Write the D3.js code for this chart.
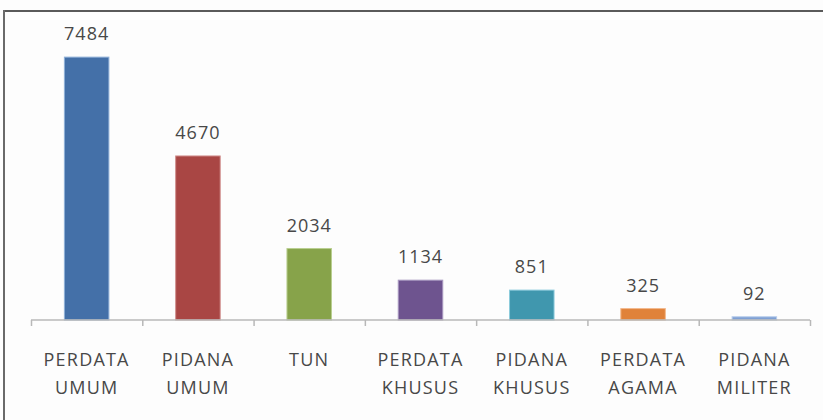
<!DOCTYPE html>
<html><head><meta charset="utf-8">
<script src="https://cdn.jsdelivr.net/npm/d3@7"></script>
<style>
html,body{margin:0;padding:0;background:#fdfdfd;}
svg{display:block;}
</style></head>
<body>
<svg id="chart" width="823" height="420"></svg>
<script>
const categories = [["PERDATA","UMUM"],["PIDANA","UMUM"],["TUN"],["PERDATA","KHUSUS"],["PIDANA","KHUSUS"],["PERDATA","AGAMA"],["PIDANA","MILITER"]];
const values = [7484, 4670, 2034, 1134, 851, 325, 92];
const colors = ["#4470a8", "#a94644", "#87a34a", "#6e548f", "#4097ae", "#e0823a", "#7fa0d4"];
const strokes = ["#8fb0d8", "#d08e8c", "#b9cf90", "#a898c0", "#8ccbdc", "#f3b88b", "#b8cdec"];

const W = 823, H = 420;
const svg = d3.select("#chart");
svg.append("rect").attr("width", W).attr("height", H).attr("fill", "#fdfdfd");
// frame lines (top and left)
svg.append("line").attr("x1", 3).attr("x2", W).attr("y1", 11).attr("y2", 11).attr("stroke", "#5a5a5a").attr("stroke-width", 2);
svg.append("line").attr("x1", 4).attr("x2", 4).attr("y1", 10).attr("y2", H).attr("stroke", "#6a6a6a").attr("stroke-width", 2);

const x = d3.scaleBand().domain(d3.range(values.length)).range([31, 810]).paddingInner(0.6).paddingOuter(0.3);
const y = d3.scaleLinear().domain([0, 8000]).range([320, 39]);

svg.selectAll("rect.bar").data(values).join("rect").attr("class", "bar")
  .attr("x", (d, i) => x(i))
  .attr("y", d => y(d))
  .attr("width", x.bandwidth())
  .attr("height", d => y(0) - y(d))
  .attr("fill", (d, i) => colors[i])
  .attr("stroke", (d, i) => strokes[i])
  .attr("stroke-width", 1);

// axis
const axisG = svg.append("g").attr("transform", "translate(0,320)");
const xAxis = d3.axisBottom(d3.scaleLinear().domain([0, values.length]).range([31, 810]))
  .tickValues(d3.range(values.length + 1)).tickSize(6).tickFormat("");
axisG.call(xAxis);
axisG.select(".domain").attr("stroke", "#b8b8b8").attr("stroke-width", 1.5).attr("d", "M31,0H810");
axisG.selectAll(".tick line").attr("stroke", "#b8b8b8").attr("stroke-width", 1.5);

const font = "'Open Sans', sans-serif";
// value labels
svg.selectAll("text.val").data(values).join("text").attr("class", "val")
  .attr("x", (d, i) => x(i) + x.bandwidth() / 2)
  .attr("y", d => y(d) - 17)
  .attr("text-anchor", "middle")
  .attr("font-family", font).attr("font-size", 18).attr("letter-spacing", 1)
  .attr("fill", "#484848")
  .text(d => d);

// category labels
const cats = svg.selectAll("text.cat").data(categories).join("text").attr("class", "cat")
  .attr("text-anchor", "middle")
  .attr("font-family", font).attr("font-size", 18).attr("letter-spacing", 1.2)
  .attr("fill", "#484848");
cats.each(function(lines, i) {
  const cx = x(i) + x.bandwidth() / 2;
  lines.forEach((t, j) => {
    d3.select(this).append("tspan").attr("x", cx).attr("y", 366 + j * 28).text(t);
  });
});
</script>
</body></html>
